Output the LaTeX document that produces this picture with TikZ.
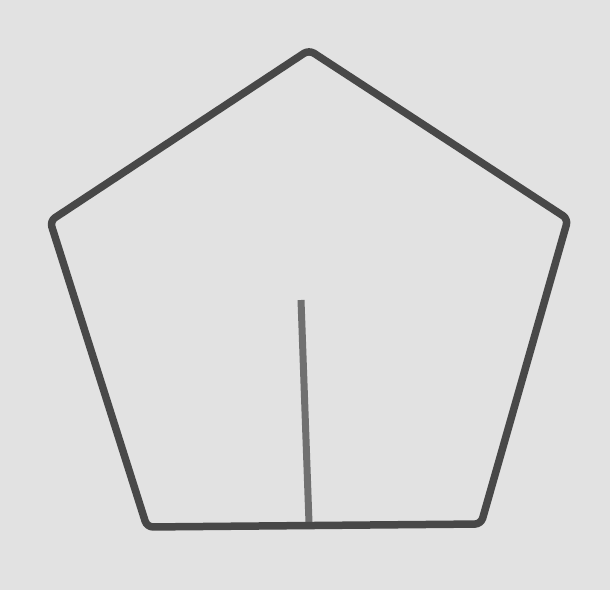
\documentclass[tikz,border=0pt]{standalone}
\definecolor{paper}{RGB}{226,226,226}
\definecolor{ink}{RGB}{72,72,72}
\definecolor{inklight}{RGB}{112,112,112}
\tikzset{
  edge/.style={draw=ink, line width=7.5pt, line join=round, rounded corners=6pt},
  stem/.style={draw=inklight, line width=7pt}
}
\begin{document}
\begin{tikzpicture}[x=1pt,y=1pt]
\fill[paper] (0,0) rectangle (610,590);
\useasboundingbox (0,0) rectangle (610,590);
\coordinate (T) at (309,540);
\coordinate (R) at (568,371);
\coordinate (BR) at (481,66);
\coordinate (BL) at (147,63);
\coordinate (L) at (50,369);
\coordinate (S0) at (309,67);
\coordinate (S1) at (301,290);
\draw[stem] (S0) -- (S1);
\draw[edge] (T) -- (R) -- (BR) -- (BL) -- (L) -- cycle;
\end{tikzpicture}
\end{document}
